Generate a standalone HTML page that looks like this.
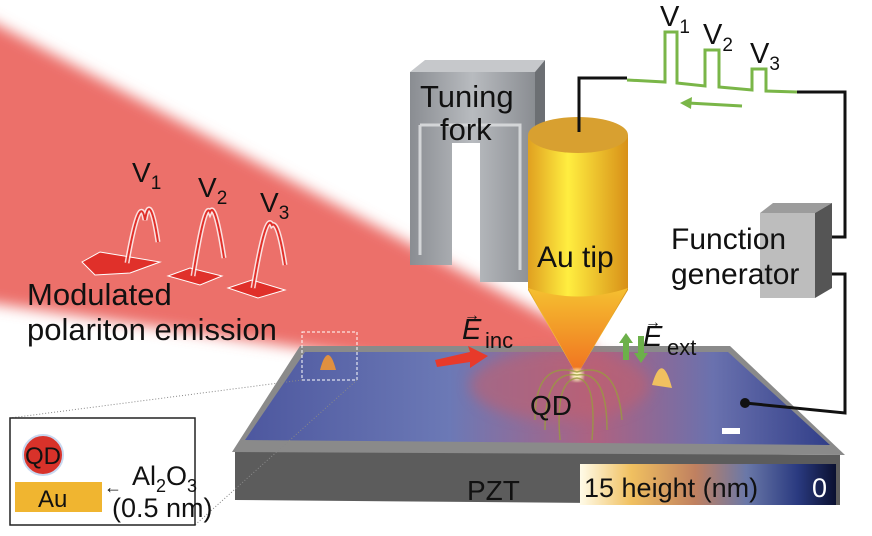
<!DOCTYPE html>
<html><head><meta charset="utf-8"><style>
html,body{margin:0;padding:0;background:#fff;width:872px;height:536px;overflow:hidden}
svg text{font-family:"Liberation Sans",sans-serif}
</style></head><body>
<svg width="872" height="536" viewBox="0 0 872 536" xmlns="http://www.w3.org/2000/svg">
<defs>
<filter id="bl" x="-20%" y="-20%" width="140%" height="140%"><feGaussianBlur stdDeviation="7"/></filter>
<filter id="bl2"><feGaussianBlur stdDeviation="2"/></filter>
<linearGradient id="surf" x1="0" y1="0" x2="1" y2="0">
<stop offset="0" stop-color="#4a55a0"/><stop offset="0.35" stop-color="#6a78b8"/><stop offset="0.6" stop-color="#b06080"/><stop offset="0.8" stop-color="#6870b0"/><stop offset="1" stop-color="#2c3a88"/></linearGradient>
<linearGradient id="cbar" x1="0" y1="0" x2="1" y2="0">
<stop offset="0" stop-color="#fffbe8"/><stop offset="0.2" stop-color="#f0c060"/><stop offset="0.45" stop-color="#c08060"/><stop offset="0.65" stop-color="#6a78a8"/><stop offset="0.85" stop-color="#2a3a80"/><stop offset="1" stop-color="#0a1030"/></linearGradient>
<linearGradient id="tip" x1="0" y1="0" x2="1" y2="0">
<stop offset="0" stop-color="#e0a020"/><stop offset="0.4" stop-color="#ffee40"/><stop offset="1" stop-color="#d89018"/></linearGradient>
<linearGradient id="cone" x1="0" y1="0" x2="0" y2="1">
<stop offset="0" stop-color="#f5c030"/><stop offset="1" stop-color="#f07020"/></linearGradient>
<linearGradient id="fork" x1="0" y1="0" x2="1" y2="0">
<stop offset="0" stop-color="#8a8d92"/><stop offset="0.5" stop-color="#b8bbbf"/><stop offset="1" stop-color="#8a8d92"/></linearGradient>
</defs>
<!-- red beam -->
<polygon points="-30,10 590,340 590,390 -30,300" fill="#ec6f6a" filter="url(#bl)"/>
<!-- slab -->
<polygon points="235,450 840,455 840,505 235,500" fill="#5c5c5c"/>
<polygon points="300,346 730,346 845,455 232,452" fill="#8a8a8a"/>
<polygon points="305,352 728,352 830,445 245,440" fill="url(#surf)" opacity="0.95"/>
<ellipse cx="560" cy="385" rx="90" ry="35" fill="#c06070" opacity="0.6" filter="url(#bl)"/>
<path d="M320 370 Q328 340 336 370Z" fill="#e09040"/>
<path d="M652 385 Q662 350 672 388Z" fill="#f0c060"/>
<rect x="302" y="332" width="55" height="48" fill="none" stroke="#fff" stroke-dasharray="3,2"/>
<line x1="302" y1="380" x2="10" y2="418" stroke="#888" stroke-dasharray="1,2"/>
<line x1="357" y1="380" x2="195" y2="525" stroke="#888" stroke-dasharray="1,2"/>
<rect x="580" y="464" width="256" height="41" fill="url(#cbar)"/>
<text x="467" y="500" font-size="28" fill="#111">PZT</text>
<text x="584" y="497" font-size="27" fill="#111">15 height (nm)</text>
<text x="812" y="497" font-size="27" fill="#fff">0</text>
<rect x="722" y="428" width="18" height="6" fill="#fff"/>
<!-- tuning fork -->
<polygon points="410,72 425,60 545,60 535,72" fill="#c6c8cb"/>
<polygon points="535,72 545,60 545,265 535,282" fill="#6c6f73"/>
<path d="M410 72 H535 V282 H480 V143 H452 V265 H410 Z" fill="url(#fork)"/>
<path d="M420 125 H520 V270 M420 125 V255" fill="none" stroke="#d4d6d8" stroke-width="3"/>
<text x="420" y="107" font-size="31" fill="#111">Tuning</text>
<text x="440" y="140" font-size="31" fill="#111">fork</text>
<!-- tip -->
<path d="M528 135 V290 L577 375 L628 290 V135 Z" fill="url(#tip)"/>
<path d="M528 288 Q578 305 628 288 L577 375 Z" fill="url(#cone)"/>
<ellipse cx="578" cy="135" rx="50" ry="18" fill="#d8a030"/>
<circle cx="577" cy="375" r="6" fill="#fff8c0" filter="url(#bl2)"/>
<text x="537" y="267" font-size="30" fill="#111">Au tip</text>
<g stroke="#9a9a40" fill="none" stroke-width="1.5" opacity="0.8">
<path d="M560 440 Q555 380 577 378 Q597 380 592 440"/><path d="M545 430 Q545 370 577 375 Q607 370 607 430"/>
<path d="M535 420 Q535 360 577 372 Q617 360 622 420"/></g>
<text x="530" y="415" font-size="28" fill="#111">QD</text>
<!-- circuit -->
<g fill="none" stroke="#111" stroke-width="3">
<path d="M579 132 V78 H627"/><path d="M797 92 H845 V237 H827"/>
<path d="M827 274 H845 V413 L745 403"/></g>
<circle cx="745" cy="403" r="5" fill="#111"/>
<g fill="none" stroke="#7ab648" stroke-width="3">
<path d="M627 80 L665 82 V32 H677 V83 L705 86 V50 H719 V87 L752 90 V69 H766 V91 L797 92"/>
<path d="M742 106 L688 103"/></g>
<polygon points="680,103 692,97 691,109" fill="#7ab648"/>
<text x="660" y="26" font-size="29" fill="#111">V<tspan font-size="19" dy="7">1</tspan></text>
<text x="703" y="44" font-size="29" fill="#111">V<tspan font-size="19" dy="7">2</tspan></text>
<text x="750" y="63" font-size="29" fill="#111">V<tspan font-size="19" dy="7">3</tspan></text>
<!-- function generator -->
<polygon points="760,213 773,203 832,203 815,213" fill="#9c9c9c"/>
<polygon points="815,213 832,203 832,288 815,298" fill="#555"/>
<rect x="760" y="213" width="55" height="85" fill="#bdbdbd"/>
<text x="671" y="249" font-size="30" fill="#111">Function</text>
<text x="671" y="284" font-size="30" fill="#111">generator</text>
<!-- E fields -->
<text x="462" y="339" font-size="29" font-style="italic" font-family="Liberation Serif" fill="#111">E</text>
<text x="464" y="320" font-size="16" fill="#111">→</text>
<text x="485" y="348" font-size="22" fill="#111">inc</text>
<polygon points="435,360 470,352 468,346 488,356 470,368 470,362 437,367" fill="#e83a2a"/>
<text x="643" y="346" font-size="29" font-style="italic" font-family="Liberation Serif" fill="#111">E</text>
<text x="645" y="327" font-size="16" fill="#111">→</text>
<text x="667" y="355" font-size="22" fill="#111">ext</text>
<polygon points="619,343 626,333 633,343 629,343 629,360 623,360 623,343" fill="#6cb04a"/>
<polygon points="634,353 641,363 648,353 644,353 644,336 638,336 638,353" fill="#6cb04a"/>
<!-- emission peaks -->
<g fill="#e0302a" stroke="#fff" stroke-width="1">
<polygon points="82,262 100,252 160,262 130,273 95,275"/>
<polygon points="168,276 190,268 222,276 200,285"/>
<polygon points="228,288 252,280 285,290 258,298"/></g>
<g fill="none" stroke="#fff" stroke-width="5" opacity="0.8">
<path d="M127 263 Q140 190 145 220 Q150 190 158 242"/>
<path d="M193 276 Q205 200 210 212 Q215 200 224 258"/>
<path d="M253 288 Q266 210 272 225 Q278 220 285 265"/></g>
<g fill="none" stroke="#e0302a" stroke-width="2">
<path d="M127 263 Q140 190 145 220 Q150 190 158 242"/>
<path d="M193 276 Q205 200 210 212 Q215 200 224 258"/>
<path d="M253 288 Q266 210 272 225 Q278 220 285 265"/></g>
<text x="132" y="182" font-size="28" fill="#111">V<tspan font-size="19" dy="7">1</tspan></text>
<text x="198" y="197" font-size="28" fill="#111">V<tspan font-size="19" dy="7">2</tspan></text>
<text x="260" y="212" font-size="28" fill="#111">V<tspan font-size="19" dy="7">3</tspan></text>
<text x="27" y="305" font-size="31" fill="#111">Modulated</text>
<text x="27" y="340" font-size="31" fill="#111">polariton emission</text>
<!-- inset -->
<rect x="10" y="418" width="185" height="107" fill="#fff" stroke="#222" stroke-width="1.5"/>
<rect x="15" y="482" width="87" height="30" fill="#f0b530"/>
<circle cx="43" cy="455" r="20" fill="#d8322a" stroke="#c8d8f0" stroke-width="2"/>
<text x="25" y="464" font-size="24" fill="#111">QD</text>
<text x="38" y="507" font-size="24" fill="#111">Au</text>
<text x="104" y="493" font-size="18" fill="#111">←</text>
<text x="132" y="485" font-size="27" fill="#111">Al<tspan font-size="18" dy="7">2</tspan><tspan dy="-7">O</tspan><tspan font-size="18" dy="7">3</tspan></text>
<text x="112" y="517" font-size="27" fill="#111">(0.5 nm)</text>
</svg>
</body></html>
